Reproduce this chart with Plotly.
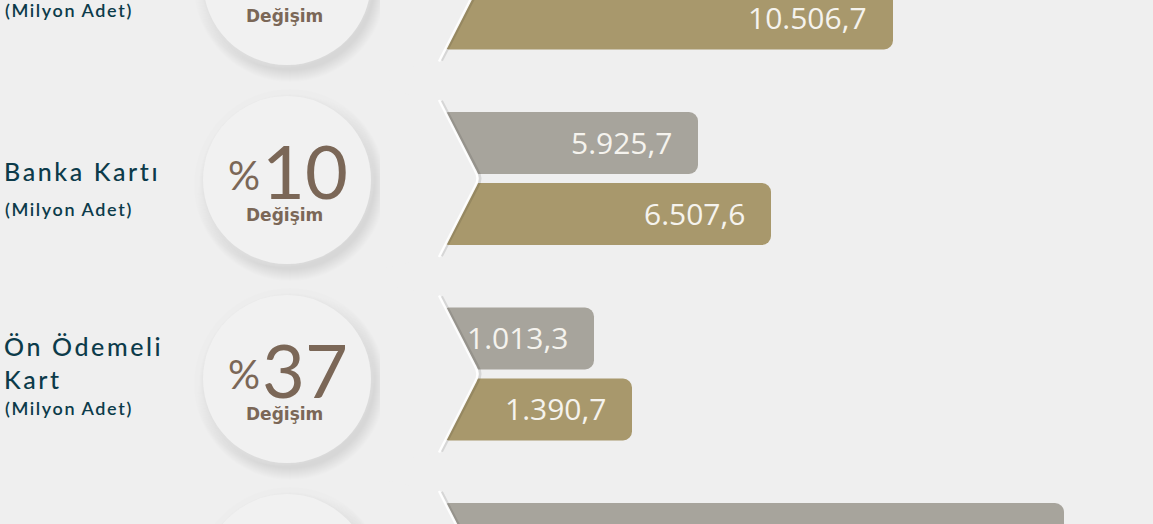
import plotly.graph_objects as go

# ---------------- data ----------------
titles = [None, "Banka Kartı", "Ön Ödemeli<br>Kart", None]
subtitle = "(Milyon Adet)"
change_pct = [None, 10, 37, None]
prev_values = [None, 5925.7, 1013.3, None]      # gray bars (previous year)
curr_values = [10506.7, 6507.6, 1390.7, None]   # gold bars (current year)
# drawn bar lengths as they appear in the infographic (not proportional to values)
prev_len = [None, 258, 154, 624]
curr_len = [453, 331, 192, None]

BG = "#efefef"
GRAY = "#a7a49c"
GOLD = "#a8986c"
TEAL = "#0c3b4a"
BROWN = "#7b6757"
VAL_TXT = "#f5f3ee"


def tr_fmt(v):
    s = f"{v:,.1f}"
    return s.replace(",", "X").replace(".", ",").replace("X", ".")


# layout geometry (axis units = screen pixels, bar base at the chevron)
X0 = 440
bar_c = [-17 + i * 195.5 for i in range(4)]
left_c = [-19 + i * 199 for i in range(4)]
BW = 62
OFF = 35.5


def px(x):
    return x - X0


fig = go.Figure()

gy, gx, gt = [], [], []
for i in range(4):
    if prev_len[i] is not None:
        gy.append(bar_c[i] - OFF)
        gx.append(prev_len[i])
        gt.append(tr_fmt(prev_values[i]) if prev_values[i] is not None else "")
fig.add_trace(go.Bar(orientation="h", y=gy, x=gx, base=0, width=BW,
                     marker=dict(color=GRAY, cornerradius=9, line=dict(width=0)),
                     hoverinfo="skip", showlegend=False))
oy, ox, ot = [], [], []
for i in range(4):
    if curr_len[i] is not None:
        oy.append(bar_c[i] + OFF)
        ox.append(curr_len[i])
        ot.append(tr_fmt(curr_values[i]) if curr_values[i] is not None else "")
fig.add_trace(go.Bar(orientation="h", y=oy, x=ox, base=0, width=BW,
                     marker=dict(color=GOLD, cornerradius=9, line=dict(width=0)),
                     hoverinfo="skip", showlegend=False))

shapes = []
annotations = []

# value labels
for y, x, t in list(zip(gy, gx, gt)) + list(zip(oy, ox, ot)):
    if t:
        annotations.append(dict(x=x, y=y, xref="x", yref="y", text=t, showarrow=False,
                                xanchor="right", yanchor="middle", xshift=-24, yshift=1,
                                font=dict(family="Open Sans", size=30, color=VAL_TXT)))

# chevron notches
for yc in bar_c:
    top, bot = yc - 78.5, yc + 78.5
    poly = (f"M {px(380)},{yc-90} L {px(439)},{top} L {px(475)},{yc-8} "
            f"Q {px(480)},{yc} {px(475)},{yc+8} L {px(439)},{bot} L {px(380)},{yc+90} Z")
    shapes.append(dict(type="path", path=poly, xref="x", yref="y",
                       fillcolor=BG, line=dict(width=0), layer="above"))
    edge_s = (f"M {px(441.5)},{top+1} L {px(477.5)},{yc-8} Q {px(482.5)},{yc} "
              f"{px(477.5)},{yc+8} L {px(441.5)},{bot-1}")
    shapes.append(dict(type="path", path=edge_s, xref="x", yref="y",
                       line=dict(color="rgba(0,0,0,0.10)", width=3), layer="above"))
    edge = (f"M {px(439)},{top} L {px(475)},{yc-8} Q {px(480)},{yc} "
            f"{px(475)},{yc+8} L {px(439)},{bot}")
    shapes.append(dict(type="path", path=edge, xref="x", yref="y",
                       line=dict(color="rgba(255,255,255,0.95)", width=2.5), layer="above"))

# circles (soft neumorphic look)
CX, R = 287, 84
for cy in left_c:
    for k in range(12, 0, -1):
        shapes.append(dict(type="circle", xref="x", yref="y",
                           x0=px(CX + 3 - R - k), x1=px(CX + 3 + R + k),
                           y0=cy + 5 - R - k, y1=cy + 5 + R + k,
                           fillcolor="rgba(0,0,0,0.007)", line=dict(width=0), layer="below"))
    for k in range(8, 0, -1):
        shapes.append(dict(type="circle", xref="x", yref="y",
                           x0=px(CX - 4 - R - k), x1=px(CX - 4 + R + k),
                           y0=cy - 5 - R - k, y1=cy - 5 + R + k,
                           fillcolor="rgba(255,255,255,0.05)", line=dict(width=0), layer="below"))
    shapes.append(dict(type="circle", xref="x", yref="y",
                       x0=px(CX - R), x1=px(CX + R), y0=cy - R, y1=cy + R,
                       fillcolor="#f1f1f1", line=dict(width=0), layer="below"))

# left column texts
for i, cy in enumerate(left_c):
    if titles[i]:
        nlines = titles[i].count("<br>") + 1
        annotations.append(dict(x=px(2), y=cy + 8 + 9 * (nlines - 1), xref="x", yref="y",
                                text=titles[i], showarrow=False, xanchor="left",
                                yanchor="bottom", align="left",
                                font=dict(family="Lato", size=25, weight=500, color=TEAL)))
    annotations.append(dict(x=px(3), y=cy + 29, xref="x", yref="y", text=subtitle,
                            showarrow=False, xanchor="left", yanchor="middle", align="left",
                            font=dict(family="Lato", size=18, weight=600, color=TEAL)))
    annotations.append(dict(x=px(CX - 3), y=cy + 35, xref="x", yref="y", text="<b>Değişim</b>",
                            showarrow=False, xanchor="center", yanchor="middle",
                            font=dict(family="DejaVu Sans", size=17, color=BROWN)))
    if change_pct[i] is not None:
        annotations.append(dict(x=px(262), y=cy - 5, xref="x", yref="y", text="%",
                                showarrow=False, xanchor="right", yanchor="middle",
                                font=dict(family="Lato", size=40, color=BROWN)))
        annotations.append(dict(x=px(260), y=cy - 10, xref="x", yref="y", text=str(change_pct[i]),
                                showarrow=False, xanchor="left", yanchor="middle",
                                font=dict(family="Lato", size=74, color=BROWN)))

fig.update_layout(
    width=1153, height=524, autosize=False,
    margin=dict(l=0, r=0, t=0, b=0, pad=0),
    paper_bgcolor=BG, plot_bgcolor=BG,
    barmode="overlay",
    xaxis=dict(range=[-X0, 1153 - X0], visible=False, fixedrange=True),
    yaxis=dict(range=[524, 0], visible=False, fixedrange=True),
    shapes=shapes, annotations=annotations,
)

# widen the tracking of the left-column labels, as in the original artwork
post = """
function spaceLabels(){
  document.querySelectorAll('.annotation-text').forEach(function(t){
    var s = t.textContent;
    if (s.indexOf('Milyon') >= 0) { t.style.letterSpacing = '1.6px'; }
    else if (s.indexOf('Banka') >= 0 || s.indexOf('Ödemeli') >= 0) { t.style.letterSpacing = '2.6px'; }
  });
}
spaceLabels();
var gd = document.getElementById('{plot_id}');
if (gd && gd.on) { gd.on('plotly_afterplot', spaceLabels); }
setTimeout(spaceLabels, 50);
"""
fig.write_html("out.html", post_script=post)
